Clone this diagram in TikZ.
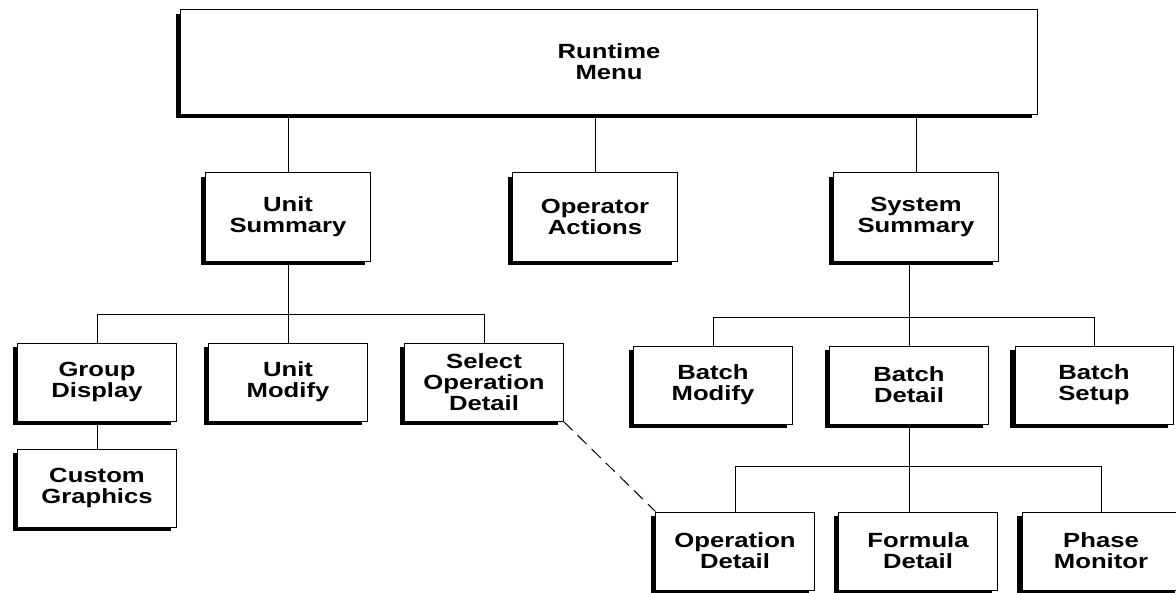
\documentclass[tikz,border=0pt]{standalone}
\usepackage{fontspec}
\setmainfont{Liberation Sans}[FakeStretch=1.25]
\usepackage{tikz}
\usetikzlibrary{positioning, shadows, calc}

\begin{document}
\begin{tikzpicture}[
  x=0.025cm, y=-0.025cm,
  menubox/.style={rectangle, draw=black, line width=0.7pt, fill=white,
                  drop shadow={shadow xshift=-0.13cm, shadow yshift=-0.09cm,
                               fill=black, opacity=1},
                  align=center, font=\fontsize{14.6}{15}\selectfont\bfseries},
  topbox/.style={menubox, minimum width=4.1cm, minimum height=2.2cm},
  subbox/.style={menubox, minimum width=3.95cm, minimum height=1.95cm},
  link/.style={line width=0.7pt},
  every node/.style={inner sep=2pt}
]
  \useasboundingbox (0,0) rectangle (1176,592);

  %% --- Row 0: Runtime menu ---
  \node[menubox, minimum width=21.4cm, minimum height=2.6cm]
    (menu) at (609,62) {Runtime\\Menu};

  %% --- Row 1: Summaries and actions ---
  \node[topbox] (usum)  at (288,217) {Unit\\Summary};
  \node[topbox] (opact) at (595,217) {Operator\\Actions};
  \node[topbox] (ssum)  at (916,217) {System\\Summary};

  %% --- Row 2: Unit side ---
  \node[subbox] (grp)   at (97,382)  {Group\\Display};
  \node[subbox] (umod)  at (288,382) {Unit\\Modify};
  \node[subbox] (selop) at (484,382) {Select\\Operation\\Detail};

  %% --- Row 2: System side ---
  \node[subbox] (bmod) at (713,385)  {Batch\\Modify};
  \node[subbox] (bdet) at (909,385)  {Batch\\Detail};
  \node[subbox] (bset) at (1094,385) {Batch\\Setup};

  %% --- Row 3: Below group display ---
  \node[subbox] (cgfx) at (97,488) {Custom\\Graphics};

  %% --- Row 4: Batch detail children ---
  \node[subbox] (opdet) at (735,551)  {Operation\\Detail};
  \node[subbox] (fdet)  at (918,551)  {Formula\\Detail};
  \node[subbox] (phmon) at (1101,551) {Phase\\Monitor};

  %% --- Connectors ---
  %% Runtime menu -> row 1
  \draw[link] (menu.south -| usum.north)  -- (usum.north);
  \draw[link] (menu.south -| opact.north) -- (opact.north);
  \draw[link] (menu.south -| ssum.north)  -- (ssum.north);

  %% Unit summary -> row 2
  \draw[link] (usum.south) -- (usum.south |- umod.north);
  \draw[link] (grp.north) -- ++(0,-28) -| (selop.north);

  %% System summary -> row 2
  \draw[link] (bdet.north |- ssum.south) -- (bdet.north);
  \draw[link] (bmod.north) -- ++(0,-28) -| (bset.north);

  %% Group display -> custom graphics
  \draw[link] (grp.south) -- (cgfx.north);

  %% Batch detail -> row 4
  \draw[link] (bdet.south) -- (bdet.south |- fdet.north);
  \draw[link] (opdet.north) -- ++(0,-45) -| (phmon.north);

  %% Select operation detail -> operation detail
  \draw[link, dashed, dash pattern=on 9pt off 5pt]
    (selop.south east) -- (opdet.north west);

\end{tikzpicture}
\end{document}
